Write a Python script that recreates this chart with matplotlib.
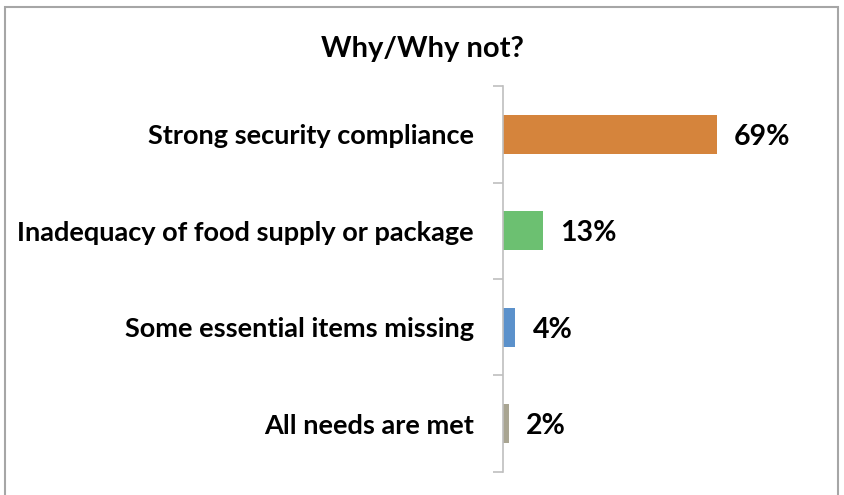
import numpy as np
import matplotlib.pyplot as plt
from matplotlib.patches import Rectangle

categories = ["Strong security compliance", "Inadequacy of food supply or package",
              "Some essential items missing", "All needs are met"]
values = [69, 13, 4, 2]
colors = ["#D5843C", "#6CC071", "#5B91CB", "#A9A592"]

plt.rcParams['font.family'] = ['Lato', 'DejaVu Sans']

fig = plt.figure(figsize=(8.44, 4.95), dpi=100)
ax = fig.add_axes([0.596, 0.0465, 0.367, 0.7797])

y = np.arange(len(categories))
ax.barh(y, values, height=0.4, color=colors)
for yi, v in zip(y, values):
    ax.text(v + 5.5, yi, f"{v}%", va='center_baseline', ha='left', fontsize=20.5, fontweight='bold')

ax.set_xlim(0, 100)
ax.set_ylim(len(categories) - 0.5, -0.5)
ax.set_yticks(y)
ax.set_yticklabels(categories, fontsize=19.5, fontweight='bold', va='center_baseline')
ax.set_yticks(np.arange(len(categories) + 1) - 0.5, minor=True)
ax.tick_params(axis='y', which='major', length=0, pad=21)
ax.tick_params(axis='y', which='minor', length=7, color='#BFBFBF', width=1.2)
ax.set_xticks([])
for s in ['top', 'right', 'bottom']:
    ax.spines[s].set_visible(False)
ax.spines['left'].set_color('#BFBFBF')
ax.spines['left'].set_linewidth(1.2)

fig.text(0.5, 0.9, "Why/Why not?", ha='center', va='center', fontsize=21, fontweight='bold')
fig.patches.append(Rectangle((0.006, -0.05), 0.987, 1.036, transform=fig.transFigure,
                             fill=False, edgecolor='#A6A6A6', linewidth=1.5))

fig.savefig("out.png", dpi=100)
